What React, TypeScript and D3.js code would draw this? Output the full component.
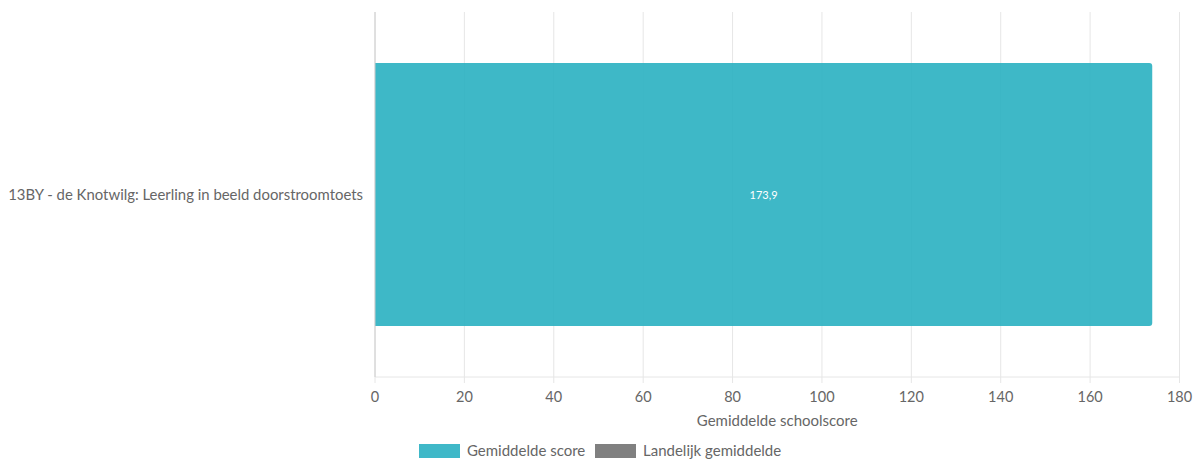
import React from "react";
import * as d3 from "d3";

const categories = ["13BY - de Knotwilg: Leerling in beeld doorstroomtoets"];
const scores = [173.9];
const xTicks = [0, 20, 40, 60, 80, 100, 120, 140, 160, 180];
const legendItems = [
  { label: "Gemiddelde score", color: "#3fb8c8" },
  { label: "Landelijk gemiddelde", color: "#808080" },
];

const W = 1200;
const H = 461;
const M = { left: 375, right: 20.5, top: 12, bottom: 84 };
const FONT = "Lato, 'Open Sans', sans-serif";

export default function App() {
  const x = d3.scaleLinear().domain([0, 180]).range([M.left, W - M.right]);
  const y = d3
    .scaleBand<string>()
    .domain(categories)
    .range([M.top, H - M.bottom])
    .paddingInner(0.28)
    .paddingOuter(0.14);
  const fmt = (v: number) => v.toFixed(1).replace(".", ",");
  const r = 3;
  return (
    <svg width={W} height={H} style={{ position: "absolute", left: 0, top: 0, fontFamily: FONT }}>
      {xTicks.map((t) => (
        <g key={t}>
          <line x1={x(t)} x2={x(t)} y1={M.top} y2={H - M.bottom} stroke="#e6e6e6" strokeWidth={1} />
          <line x1={x(t)} x2={x(t)} y1={H - M.bottom} y2={H - M.bottom + 6} stroke="#e6e6e6" />
          <text x={x(t)} y={H - M.bottom + 25} textAnchor="middle" fontSize={14.5} fill="#666">
            {t}
          </text>
        </g>
      ))}
      <line x1={M.left} x2={W - M.right} y1={H - M.bottom} y2={H - M.bottom} stroke="#e6e6e6" />
      {categories.map((c, i) => {
        const y0 = y(c)!;
        const bh = y.bandwidth();
        const x0 = x(0);
        const x1 = x(scores[i]);
        const path = `M${x0},${y0} H${x1 - r} Q${x1},${y0} ${x1},${y0 + r} V${y0 + bh - r} Q${x1},${y0 + bh} ${x1 - r},${y0 + bh} H${x0} Z`;
        return (
          <g key={c}>
            <path d={path} fill="#29b0c1" fillOpacity={0.9} />
            <text
              x={(x0 + x1) / 2}
              y={y0 + bh / 2 + 4}
              textAnchor="middle"
              fontSize={11}
              fill="#ffffff"
            >
              {fmt(scores[i])}
            </text>
            <text x={M.left - 12} y={y0 + bh / 2 + 5} textAnchor="end" fontSize={14.9} fill="#666">
              {c}
            </text>
          </g>
        );
      })}
      <line x1={M.left} x2={M.left} y1={M.top} y2={H - M.bottom} stroke="#cccccc" strokeWidth={1} />
      <text x={(x(0) + x(180)) / 2} y={H - 35} textAnchor="middle" fontSize={15} fill="#666">
        Gemiddelde schoolscore
      </text>
      <g>
        <rect x={419} y={444} width={41} height={14} fill={legendItems[0].color} />
        <text x={467} y={456} fontSize={15} fill="#666">
          {legendItems[0].label}
        </text>
        <rect x={595} y={444} width={41} height={14} fill={legendItems[1].color} />
        <text x={643} y={456} fontSize={15} fill="#666">
          {legendItems[1].label}
        </text>
      </g>
    </svg>
  );
}
